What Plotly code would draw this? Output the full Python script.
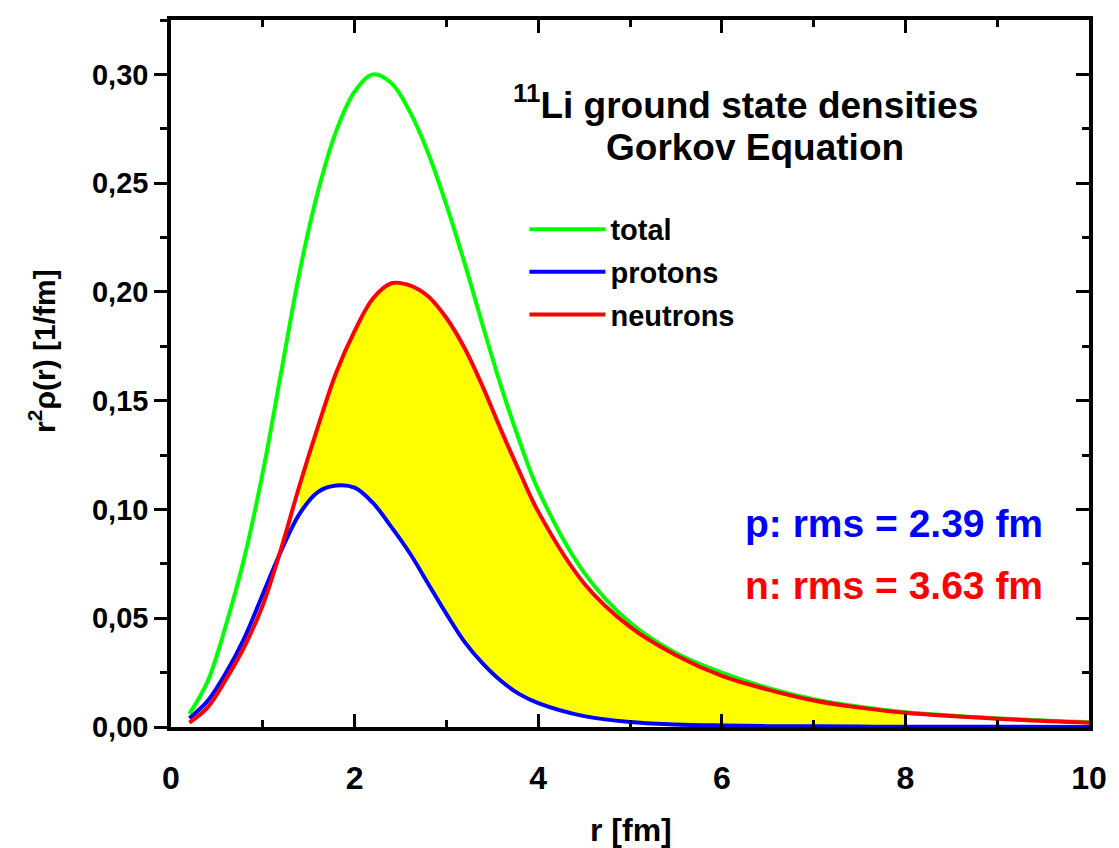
import plotly.graph_objects as go

# ---- data ----
r = [0.2, 0.4, 0.6, 0.8, 1.0, 1.2, 1.4, 1.6, 1.8, 2.0, 2.2, 2.4, 2.6, 2.8, 3.0,
     3.2, 3.4, 3.6, 3.8, 4.0, 4.5, 5.0, 5.5, 6.0, 6.5, 7.0, 7.5, 8.0, 9.0, 10.0]
total = [0.006, 0.021, 0.047, 0.078, 0.117, 0.163, 0.209, 0.246, 0.274, 0.292,
         0.300, 0.296, 0.283, 0.264, 0.240, 0.213, 0.184, 0.156, 0.131, 0.109,
         0.071, 0.048, 0.034, 0.025, 0.018, 0.0128, 0.0093, 0.0068, 0.0040, 0.0022]
protons = [0.004, 0.012, 0.025, 0.041, 0.061, 0.081, 0.098, 0.108, 0.111, 0.110,
           0.103, 0.092, 0.080, 0.066, 0.052, 0.039, 0.029, 0.021, 0.015, 0.011,
           0.005, 0.0023, 0.0012, 0.0007, 0.0004, 0.0003, 0.0002, 0.0001, 0.0001, 0.0]
neutrons = [0.002, 0.009, 0.022, 0.037, 0.056, 0.082, 0.111, 0.138, 0.163, 0.182,
            0.197, 0.204, 0.203, 0.198, 0.188, 0.174, 0.156, 0.136, 0.117, 0.099,
            0.066, 0.046, 0.033, 0.0235, 0.0172, 0.0122, 0.0089, 0.0065, 0.0038, 0.0020]

fill_from, fill_to = 1.4, 8.0

y_tickvals = [0.0, 0.05, 0.10, 0.15, 0.20, 0.25, 0.30]
y_ticktext = ["0,00", "0,05", "0,10", "0,15", "0,20", "0,25", "0,30"]
x_tickvals = [0, 2, 4, 6, 8, 10]
x_ticktext = ["0", "2", "4", "6", "8", "10"]

GREEN, BLUE, RED, YELLOW = "#00FF00", "#0000FF", "#FF0000", "#FFFF00"
FONT = "Liberation Sans, Arial, sans-serif"

idx = [i for i, v in enumerate(r) if fill_from <= v <= fill_to]
rf = [r[i] for i in idx]
pf = [protons[i] for i in idx]
nf = [neutrons[i] for i in idx]

fig = go.Figure()
fig.add_trace(go.Scatter(x=rf, y=pf, mode="lines", line=dict(width=0, shape="spline"),
                         showlegend=False, hoverinfo="skip"))
fig.add_trace(go.Scatter(x=rf, y=nf, mode="lines", line=dict(width=0, shape="spline"),
                         fill="tonexty", fillcolor=YELLOW, showlegend=False, hoverinfo="skip"))
fig.add_trace(go.Scatter(x=r, y=total, mode="lines", name="total", legendgroup="a",
                         line=dict(color=GREEN, width=4, shape="spline")))
fig.add_trace(go.Scatter(x=r, y=protons, mode="lines", name="protons", legendgroup="b",
                         line=dict(color=BLUE, width=4, shape="spline")))
fig.add_trace(go.Scatter(x=r, y=neutrons, mode="lines", name="neutrons", legendgroup="c",
                         line=dict(color=RED, width=4, shape="spline"), yaxis="y2"))

yr = [0, 0.325]
fig.update_layout(
    width=1119, height=848,
    margin=dict(l=171, r=30, t=20, b=121),
    paper_bgcolor="white", plot_bgcolor="white",
    font=dict(family=FONT, color="black"),
    xaxis=dict(range=[0, 10], tickvals=x_tickvals, ticktext=x_ticktext,
               ticks="inside", ticklen=13, tickwidth=3, tickcolor="black",
               minor=dict(ticks="inside", ticklen=7, tickwidth=3, dtick=1, tickcolor="black"),
               showline=True, linewidth=3.5, linecolor="black", mirror="ticks",
               showgrid=False, zeroline=False, ticklabelstandoff=20, automargin=False,
               tickfont=dict(size=32, weight="bold")),
    yaxis=dict(range=yr, tickvals=y_tickvals, ticktext=y_ticktext,
               ticks="outside", ticklen=13, tickwidth=3, tickcolor="black",
               minor=dict(ticks="outside", ticklen=7, tickwidth=3, dtick=0.025, tickcolor="black"),
               showline=True, linewidth=3.5, linecolor="black", mirror=True,
               showgrid=False, zeroline=False, automargin=False,
               tickfont=dict(size=29, weight="bold")),
    yaxis2=dict(range=yr, matches="y", overlaying="y", side="right",
                tickvals=y_tickvals, showticklabels=False, automargin=False,
                ticks="inside", ticklen=13, tickwidth=3, tickcolor="black",
                minor=dict(ticks="inside", ticklen=7, tickwidth=3, dtick=0.025, tickcolor="black"),
                showline=False, showgrid=False, zeroline=False),
    legend=dict(x=0.385, y=0.74, xanchor="left", yanchor="top",
                bgcolor="rgba(0,0,0,0)", traceorder="grouped", tracegroupgap=2,
                itemwidth=76, font=dict(size=29, weight="bold")),
    showlegend=True,
)

# axis titles
fig.add_annotation(xref="paper", yref="paper", x=0.501, y=-0.1457, xanchor="center", yanchor="middle",
                   text="<b>r [fm]</b>", showarrow=False, font=dict(size=32))
fig.add_annotation(xref="paper", yref="paper", x=0, xshift=-129, y=0.532, xanchor="center",
                   yanchor="middle", textangle=-90,
                   text="<b>r<sup>2</sup>ρ(r) [1/fm]</b>", showarrow=False, font=dict(size=30))

# text labels
fig.add_annotation(xref="paper", yref="paper", x=0.626, y=0.884, xanchor="center", yanchor="middle",
                   text="<b><sup>11</sup>Li ground state densities</b>", showarrow=False,
                   font=dict(size=37))
fig.add_annotation(xref="paper", yref="paper", x=0.636, y=0.819, xanchor="center", yanchor="middle",
                   text="<b>Gorkov Equation</b>", showarrow=False, font=dict(size=37))
fig.add_annotation(xref="paper", yref="paper", x=0.952, y=0.2885, xanchor="right", yanchor="middle",
                   text="<b>p: rms = 2.39 fm</b>", showarrow=False, font=dict(size=39, color=BLUE))
fig.add_annotation(xref="paper", yref="paper", x=0.952, y=0.2, xanchor="right", yanchor="middle",
                   text="<b>n: rms = 3.63 fm</b>", showarrow=False, font=dict(size=39, color=RED))

fig.write_html("out.html")
